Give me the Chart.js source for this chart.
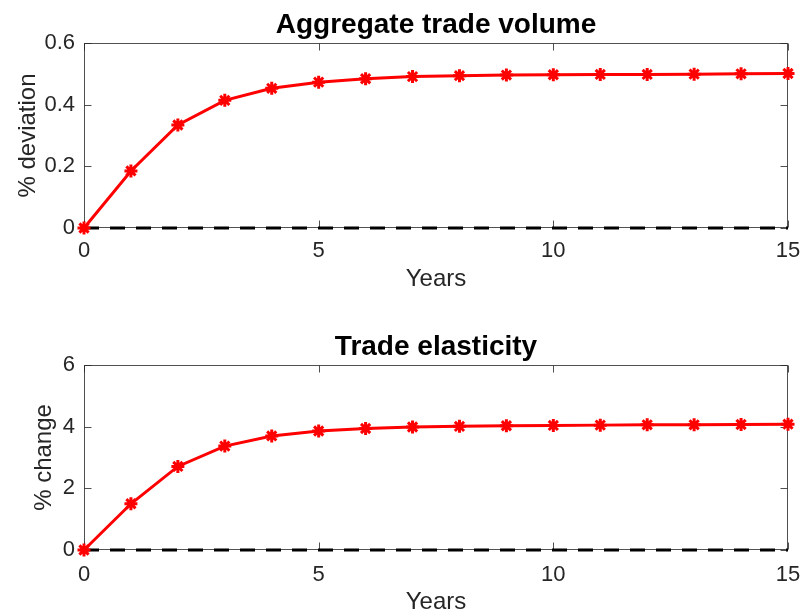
<!DOCTYPE html>
<html>
<head>
<meta charset="utf-8">
<script src="https://cdn.jsdelivr.net/npm/chart.js@4.4.1/dist/chart.umd.min.js"></script>
<style>
  html, body { margin: 0; padding: 0; background: #fff; }
  .panel { position: absolute; left: 0; width: 801px; height: 307px; }
  #panelTop { top: 0; }
  #panelBottom { top: 307px; }
</style>
</head>
<body>
<div class="panel" id="panelTop"><canvas id="chartVolume" width="801" height="307"></canvas></div>
<div class="panel" id="panelBottom"><canvas id="chartElasticity" width="801" height="307"></canvas></div>
<script>
const years = [0, 1, 2, 3, 4, 5, 6, 7, 8, 9, 10, 11, 12, 13, 14, 15];
const volumeDeviation = [0, 0.185, 0.334, 0.414, 0.453, 0.473, 0.484, 0.491, 0.494, 0.496, 0.497, 0.498, 0.498, 0.499, 0.500, 0.501];
const elasticityChange = [0, 1.50, 2.71, 3.37, 3.70, 3.86, 3.94, 3.99, 4.01, 4.03, 4.04, 4.05, 4.06, 4.06, 4.07, 4.08];
const yearTicks = [0, 5, 10, 15];
const volumeTicks = [0, 0.2, 0.4, 0.6];
const elasticityTicks = [0, 2, 4, 6];

const FONT = '"Liberation Sans", Arial, Helvetica, sans-serif';
const AXIS_COLOR = '#262626';

// box around the plot area plus inward tick marks on all four sides
const axesBox = {
  id: 'axesBox',
  beforeDatasetsDraw(chart) {
    const { ctx, chartArea: a, scales: { x, y } } = chart;
    const L = Math.round(a.left) + 0.5, R = Math.round(a.right) - 0.5;
    const T = Math.round(a.top) + 0.5, B = Math.round(a.bottom) - 0.5;
    const len = 7;
    ctx.save();
    ctx.strokeStyle = 'rgba(38,38,38,0.8)';
    ctx.lineWidth = 1;
    ctx.strokeRect(L, T, R - L, B - T);
    ctx.beginPath();
    x.ticks.forEach((t) => {
      const px = Math.round(x.getPixelForValue(t.value)) + 0.5;
      ctx.moveTo(px, B); ctx.lineTo(px, B - len);
      ctx.moveTo(px, T); ctx.lineTo(px, T + len);
    });
    y.ticks.forEach((t) => {
      const py = Math.round(y.getPixelForValue(t.value)) + 0.5;
      ctx.moveTo(L, py); ctx.lineTo(L + len, py);
      ctx.moveTo(R, py); ctx.lineTo(R - len, py);
    });
    ctx.stroke();
    ctx.restore();
  }
};

function makePanel(canvasId, cfg) {
  return new Chart(document.getElementById(canvasId), {
    type: 'line',
    data: {
      datasets: [
        {
          data: years.map((yr, i) => ({ x: yr, y: cfg.values[i] })),
          borderColor: '#ff0000',
          backgroundColor: '#ff0000',
          borderWidth: 3,
          pointStyle: 'star',
          pointRadius: 6.5,
          pointBorderWidth: 3,
          pointBorderColor: '#ff0000',
          tension: 0,
          clip: false,
          order: 1,
        },
        {
          data: [{ x: years[0], y: 0 }, { x: years[years.length - 1], y: 0 }],
          borderColor: '#000000',
          borderWidth: 3,
          borderDash: [15, 11],
          pointRadius: 0,
          clip: false,
          order: 2,
        },
      ],
    },
    options: {
      responsive: false,
      animation: false,
      layout: { padding: { left: 0, right: 13, top: 0, bottom: 0 } },
      plugins: {
        legend: { display: false },
        tooltip: { enabled: false },
        title: {
          display: true,
          text: cfg.title,
          fullSize: false,
          color: '#000000',
          font: { family: FONT, size: 28, weight: 'bold', lineHeight: 1 },
          padding: cfg.titlePad,
        },
      },
      scales: {
        x: {
          type: 'linear',
          min: 0,
          max: 15,
          afterBuildTicks: (s) => { s.ticks = yearTicks.map((v) => ({ value: v })); },
          afterFit: (s) => {
            s.height = cfg.xHeight;
            s.paddingLeft = 0;
            s.paddingRight = 0;
          },
          grid: { display: false, drawTicks: false },
          border: { display: false },
          ticks: {
            color: AXIS_COLOR,
            font: { family: FONT, size: 22 },
            padding: cfg.xTickPad,
            maxRotation: 0,
            callback: (v) => String(v),
          },
          title: {
            display: true,
            text: 'Years',
            color: AXIS_COLOR,
            font: { family: FONT, size: 24, lineHeight: 1 },
            padding: { top: 0, bottom: cfg.xTitlePad },
          },
        },
        y: {
          min: cfg.yTicks[0],
          max: cfg.yTicks[cfg.yTicks.length - 1],
          afterBuildTicks: (s) => { s.ticks = cfg.yTicks.map((v) => ({ value: v })); },
          afterFit: (s) => {
            s.width = 84;
            s.paddingTop = 0;
            s.paddingBottom = 0;
          },
          grid: { display: false, drawTicks: false },
          border: { display: false },
          ticks: {
            color: AXIS_COLOR,
            font: { family: FONT, size: 22 },
            padding: 9,
            callback: (v) => String(v),
          },
          title: {
            display: true,
            text: cfg.yLabel,
            color: AXIS_COLOR,
            font: { family: FONT, size: 24, lineHeight: 1 },
            padding: { top: cfg.yTitlePad, bottom: 0 },
          },
        },
      },
    },
    plugins: [axesBox],
  });
}

makePanel('chartVolume', {
  title: 'Aggregate trade volume',
  yLabel: '% deviation',
  values: volumeDeviation,
  yTicks: volumeTicks,
  titlePad: { top: 11.5, bottom: 3.5 },
  xHeight: 79,
  xTickPad: 10,
  xTitlePad: 16,
  yTitlePad: 16,
});

makePanel('chartElasticity', {
  title: 'Trade elasticity',
  yLabel: '% change',
  values: elasticityChange,
  yTicks: elasticityTicks,
  titlePad: { top: 26, bottom: 4 },
  xHeight: 64,
  xTickPad: 12,
  xTitlePad: 0,
  yTitlePad: 32,
});
</script>
</body>
</html>
